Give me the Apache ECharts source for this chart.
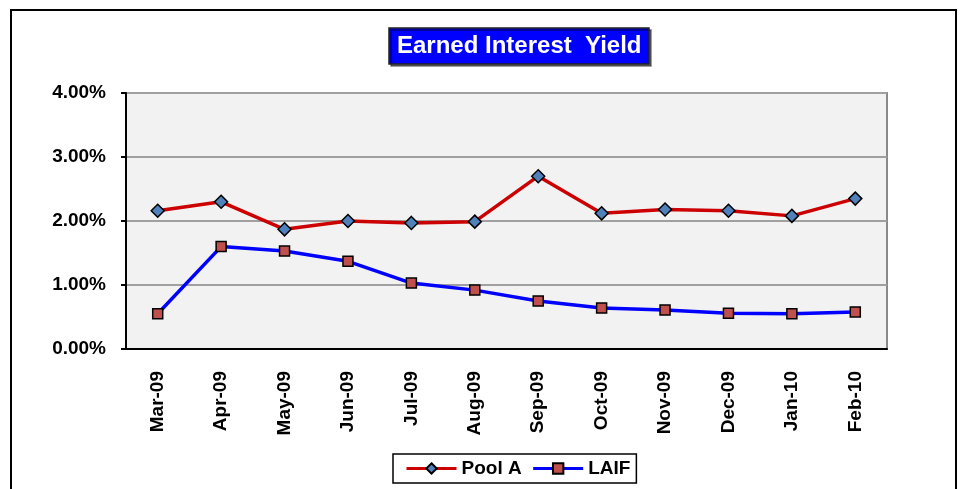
<!DOCTYPE html>
<html>
<head>
<meta charset="utf-8">
<script src="https://cdn.jsdelivr.net/npm/echarts@6/dist/echarts.min.js"></script>
<style>
  html, body { margin: 0; padding: 0; background: #fff; }
  #chart { width: 961px; height: 489px; }
</style>
</head>
<body>
<div id="chart"></div>
<script>
// months on the x axis
const months = ['Mar-09', 'Apr-09', 'May-09', 'Jun-09', 'Jul-09', 'Aug-09',
    'Sep-09', 'Oct-09', 'Nov-09', 'Dec-09', 'Jan-10', 'Feb-10']
// yields in percent
const poolA = [2.16, 2.30, 1.87, 2.00, 1.97, 1.99, 2.70, 2.12, 2.18, 2.16, 2.08, 2.35]
const laif = [0.55, 1.60, 1.53, 1.37, 1.03, 0.92, 0.75, 0.64, 0.61, 0.56, 0.55, 0.58]

const font = 'Liberation Sans, Arial, sans-serif'
const chart = echarts.init(document.getElementById('chart'))

chart.setOption({
    animation: false,
    backgroundColor: '#fff',
    title: {
        text: 'Earned Interest  Yield',
        left: 389,
        top: 28,
        padding: [6, 8, 6, 8],
        backgroundColor: '#0000ff',
        borderColor: '#222',
        borderWidth: 1.5,
        shadowColor: 'rgba(0,0,0,0.5)',
        shadowOffsetX: 2,
        shadowOffsetY: 2,
        textStyle: {
            color: '#fff',
            fontFamily: font,
            fontWeight: 'bold',
            fontSize: 24
        }
    },
    graphic: [{
        type: 'rect',
        shape: {x: 11, y: 10, width: 945, height: 500},
        style: {fill: 'none', stroke: '#000', lineWidth: 2},
        silent: true
    }],
    grid: {
        left: 126,
        top: 93,
        right: 74,
        bottom: 140,
        show: true,
        backgroundColor: '#f2f2f2',
        borderColor: '#8a8a8a',
        borderWidth: 2
    },
    legend: {
        left: 393,
        top: 454,
        padding: [5, 6, 5, 12],
        itemGap: 10,
        itemWidth: 50,
        itemHeight: 13,
        borderColor: '#000',
        borderWidth: 1.5,
        lineStyle: {width: 3},
        textStyle: {
            color: '#000',
            fontFamily: font,
            fontWeight: 'bold',
            fontSize: 19
        },
        data: ['Pool A', 'LAIF']
    },
    xAxis: {
        type: 'category',
        data: months,
        boundaryGap: true,
        axisLine: {lineStyle: {color: '#000', width: 2}},
        axisTick: {length: 5, lineStyle: {color: '#000', width: 2}},
        axisLabel: {
            rotate: 90,
            margin: 22,
            color: '#000',
            fontFamily: font,
            fontWeight: 'bold',
            fontSize: 19
        }
    },
    yAxis: {
        type: 'value',
        min: 0,
        max: 4,
        interval: 1,
        axisLine: {show: true, lineStyle: {color: '#000', width: 2}},
        axisTick: {show: true, length: 5, lineStyle: {color: '#000', width: 2}},
        splitLine: {lineStyle: {color: '#a0a0a0', width: 2}},
        axisLabel: {
            margin: 20,
            color: '#000',
            fontFamily: font,
            fontWeight: 'bold',
            fontSize: 19,
            formatter: v => v.toFixed(2) + '%'
        }
    },
    series: [{
        name: 'Pool A',
        type: 'line',
        data: poolA,
        symbol: 'diamond',
        symbolSize: 13,
        lineStyle: {color: '#cc0000', width: 3.5},
        itemStyle: {color: '#4f81bd', borderColor: '#000', borderWidth: 1.5}
    }, {
        name: 'LAIF',
        type: 'line',
        data: laif,
        symbol: 'rect',
        symbolSize: 10,
        lineStyle: {color: '#0000ff', width: 3.5},
        itemStyle: {color: '#c0504d', borderColor: '#000', borderWidth: 1.5}
    }]
})
</script>
</body>
</html>
